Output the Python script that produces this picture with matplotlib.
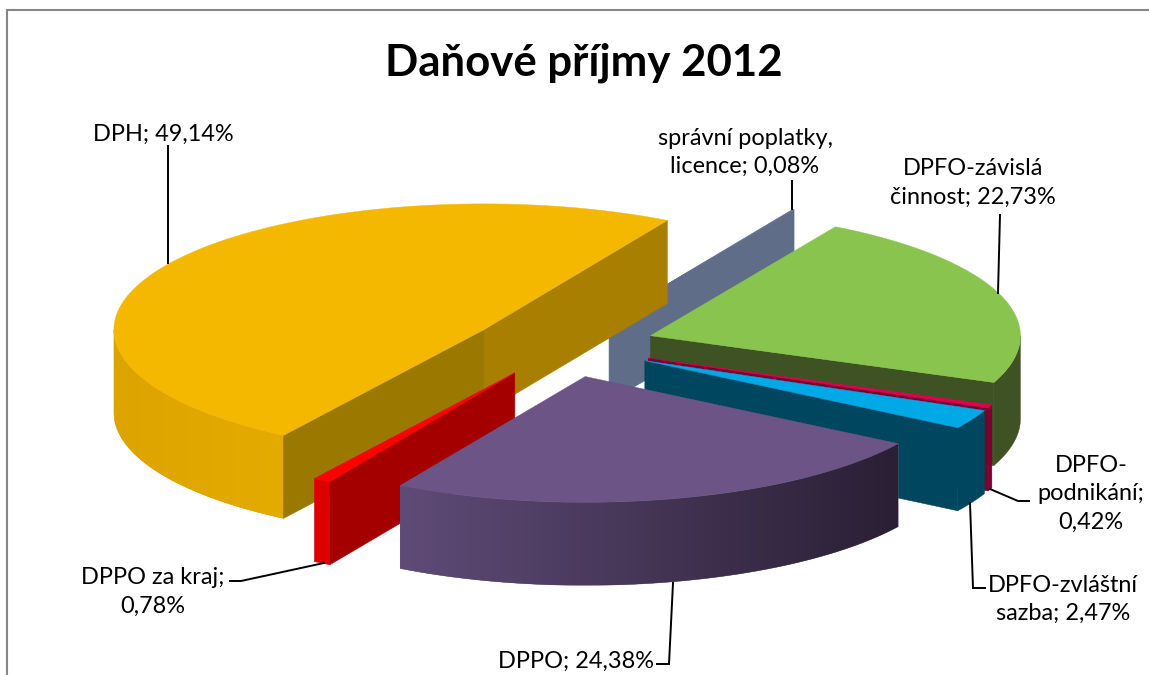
import numpy as np
import matplotlib
matplotlib.use("Agg")
import matplotlib.pyplot as plt
from matplotlib.colors import LinearSegmentedColormap
from matplotlib.patches import Polygon

# Shares of tax revenue, clockwise from the first slice
categories = ["DPFO-závislá činnost", "DPFO-podnikání", "DPFO-zvláštní sazba", "DPPO",
              "DPPO za kraj", "DPH", "správní poplatky, licence"]
shares = [22.73, 0.42, 2.47, 24.38, 0.78, 49.14, 0.08]
title = "Daňové příjmy 2012"

# Colours per slice, same order as the categories
top_colors = ["#89C44F", "#E0004F", "#00A8E6", "#6D5487", "#FF0000", "#F4B800", "#5F6D88"]
cut_colors = [("#3E5223", "#3E5223"), ("#7A0030", "#7A0030"), ("#00465F", "#00465F"),
              ("#4A3A5C", "#4A3A5C"), ("#A50000", "#A50000"), ("#9B7800", "#A87F00"),
              ("#5F6D88", "#5F6D88")]
wall_colors = [("#3E5223", "#3E5223"), ("#7A0030", "#7A0030"), ("#00465F", "#00465F"),
               ("#5F4B77", "#2A1F34"), ("#DC0000", "#DC0000"), ("#DDA400", "#E4AB00"),
               ("#5F6D88", "#5F6D88")]

# Painter's order, back to front
draw_order = [6, 5, 4, 0, 1, 2, 3]

# Pie geometry in pixels
CX, CY = 563.0, 346.0
RADIUS = 370.0
SQUASH = 0.34
EXPLODE = 0.25
DEPTH = 83.0
FIRST_ANGLE = 30.0

W, H = 1149, 675
fig = plt.figure(figsize=(W / 100, H / 100), dpi=100, facecolor="white")
ax = fig.add_axes([0, 0, 1, 1])
ax.set_xlim(0, W)
ax.set_ylim(H, 0)
ax.axis("off")


def project(theta_deg, r=1.0, origin=(0.0, 0.0)):
    """Ground-plane polar position (clockwise from the back) to screen pixels."""
    t = np.radians(theta_deg)
    return (origin[0] + RADIUS * r * np.sin(t),
            origin[1] - RADIUS * SQUASH * r * np.cos(t))


def draw_slice(start, end, mid, top, cuts, wall, z):
    apex = project(mid, EXPLODE, (CX, CY))

    # Outer wall: only the front half of the rim faces the viewer
    lo, hi = max(start, 90.0), min(end, 270.0)
    if hi > lo:
        angles = np.linspace(lo, hi, 200)
        xs, ys = project(angles, 1.0, apex)
        outline = np.vstack([np.column_stack([xs, ys]),
                             np.column_stack([xs[::-1], ys[::-1] + DEPTH])])
        patch = Polygon(outline, closed=True, facecolor=wall[0], edgecolor=wall[0],
                        linewidth=0.3, zorder=z)
        ax.add_patch(patch)
        # Only rims with a real colour ramp need the gradient fill
        if wall[0] != wall[1]:
            cmap = LinearSegmentedColormap.from_list("wall", list(wall))
            shade = ax.imshow(np.linspace(0, 1, 256)[None, :], cmap=cmap, aspect="auto",
                              extent=(xs.min(), xs.max(), ys.max() + DEPTH, ys.min()),
                              interpolation="bilinear", zorder=z + 0.1)
            shade.set_clip_path(patch)

    # Radial cut faces that look towards the viewer
    faces = []
    if np.cos(np.radians(end + 90)) < 0:
        faces.append((end, cuts[1]))
    if np.cos(np.radians(start - 90)) < 0:
        faces.append((start, cuts[0]))
    for ang, col in faces:
        px, py = project(ang, 1.0, apex)
        ax.add_patch(Polygon([apex, (px, py), (px, py + DEPTH), (apex[0], apex[1] + DEPTH)],
                             closed=True, facecolor=col, edgecolor=col, linewidth=0.4,
                             zorder=z + 0.2))

    # Top surface
    angles = np.linspace(start, end, 240)
    xs, ys = project(angles, 1.0, apex)
    ax.add_patch(Polygon(np.vstack([[apex], np.column_stack([xs, ys])]), closed=True,
                         facecolor=top, edgecolor=top, linewidth=0.3, zorder=z + 0.5))


spans = np.array(shares) / sum(shares) * 360.0
starts = FIRST_ANGLE + np.concatenate([[0.0], np.cumsum(spans)[:-1]])
for rank, idx in enumerate(draw_order):
    s, e = starts[idx], starts[idx] + spans[idx]
    draw_slice(s, e, 0.5 * (s + e), top_colors[idx], cut_colors[idx], wall_colors[idx], 2 + rank)

# imshow resets the view, so restore the pixel coordinate system
ax.set_xlim(0, W)
ax.set_ylim(H, 0)


def pct(i):
    return f"{shares[i]:.2f}".replace(".", ",") + "%"


FONT = "Lato"
LABEL_SIZE = 16.9
label_specs = [
    (5, f"DPH; {pct(5)}", 163, 134),
    (6, f"správní poplatky,\nlicence; {pct(6)}", 745, 152.5),
    (0, f"DPFO-závislá\nčinnost; {pct(0)}", 973, 183),
    (1, f"DPFO-\npodnikání;\n{pct(1)}", 1091, 494),
    (2, f"DPFO-zvláštní\nsazba; {pct(2)}", 1063, 599.5),
    (4, f"DPPO za kraj;\n{pct(4)}", 153, 592),
    (3, f"DPPO; {pct(3)}", 576, 661),
]
for _, txt, x, y in label_specs:
    ax.text(x, y, txt, ha="center", va="center", family=FONT, fontsize=LABEL_SIZE,
            color="black", linespacing=1.42, zorder=20)

ax.text(584, 63, title, ha="center", va="center", family=FONT, fontweight="bold",
        fontsize=31.5, color="black", zorder=20)

# Leader lines from labels to slices
leaders = [
    [(168, 146), (168, 263)],
    [(792, 181), (792, 209)],
    [(1000, 215), (998, 293)],
    [(990, 489), (1018, 501), (1029, 501)],
    [(970, 503), (973, 588), (985, 588)],
    [(230, 581), (241, 581), (324, 563)],
    [(657, 664), (669, 664), (673, 583)],
]
for pts in leaders:
    xs, ys = zip(*pts)
    ax.plot(xs, ys, color="black", lw=1.4, solid_joinstyle="miter", zorder=15)

# Chart frame, open towards the right and bottom edges
ax.plot([7, 7, W], [H, 10, 10], color="#868686", lw=1.5, solid_joinstyle="miter", zorder=1)

fig.savefig("out.png", dpi=100, facecolor="white")
